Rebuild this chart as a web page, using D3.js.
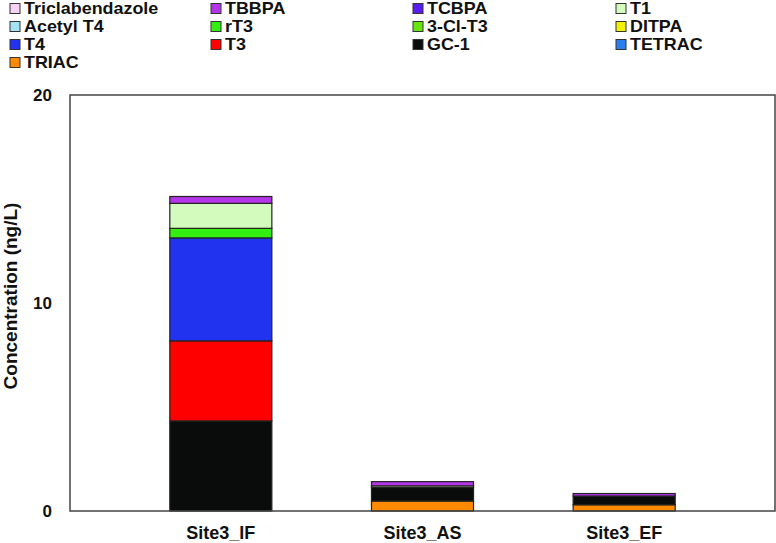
<!doctype html>
<html>
<head>
<meta charset="utf-8">
<title>Concentration stacked bars</title>
<script src="https://cdn.jsdelivr.net/npm/d3@7"></script>
<style>
  body { margin: 0; background: #fff; }
  text { font-family: "Liberation Sans", Arial, sans-serif; font-weight: bold; fill: #111; }
</style>
</head>
<body>
<svg id="chart" width="776" height="543"></svg>
<script>
// legend order (top of the stack first)
var compounds = ["Triclabendazole", "TBBPA", "TCBPA", "T1", "Acetyl T4", "rT3", "3-Cl-T3",
                 "DITPA", "T4", "T3", "GC-1", "TETRAC", "TRIAC"];
var colors = ["#f8d2f2", "#b535e8", "#5a1ef0", "#d2fbbd", "#a6e2f6", "#33ee11", "#66e611",
              "#f2f200", "#2233f0", "#ff0000", "#0a0c0c", "#2a7ef0", "#ff8a00"];
var sites = ["Site3_IF", "Site3_AS", "Site3_EF"];

// values per compound, one per site (ng/L)
var triclabendazole = [0, 0, 0];
var tbbpa   = [0.33, 0.2, 0.12];
var tcbpa   = [0, 0, 0];
var t1      = [1.2, 0.08, 0];
var acetylT4 = [0, 0, 0];
var rt3     = [0.46, 0, 0];
var clt3    = [0, 0, 0];
var ditpa   = [0, 0, 0];
var t4      = [4.95, 0, 0];
var t3      = [3.85, 0, 0];
var gc1     = [4.33, 0.65, 0.42];
var tetrac  = [0, 0, 0];
var triac   = [0, 0.48, 0.3];

var series = [triclabendazole, tbbpa, tcbpa, t1, acetylT4, rt3, clt3, ditpa, t4, t3, gc1, tetrac, triac];
var yTicks = [0, 10, 20];

var rows = sites.map(function(s, i) {
  var r = { site: s };
  compounds.forEach(function(c, j) { r[c] = series[j][i]; });
  return r;
});

var svg = d3.select("#chart");
var plot = { left: 70, right: 775, top: 95, bottom: 511 };

var x = d3.scaleBand().domain(sites).range([120, 725]).paddingInner(0.494).paddingOuter(0.247);
var y = d3.scaleLinear().domain([0, 20]).range([plot.bottom, plot.top]);
var color = d3.scaleOrdinal().domain(compounds).range(colors);

// stack from the bottom: last legend entry sits at the base
var stack = d3.stack().keys(compounds.slice().reverse());
var layers = stack(rows);

svg.append("g").selectAll("g")
  .data(layers)
  .join("g")
    .attr("fill", function(d) { return color(d.key); })
  .selectAll("rect")
  .data(function(d) { return d.filter(function(p) { return p[1] - p[0] > 0; }); })
  .join("rect")
    .attr("x", function(d) { return x(d.data.site); })
    .attr("width", x.bandwidth())
    .attr("y", function(d) { return y(d[1]); })
    .attr("height", function(d) { return y(d[0]) - y(d[1]); })
    .attr("stroke", "#222")
    .attr("stroke-width", 1.2);

// frame
svg.append("rect")
  .attr("x", plot.left).attr("y", plot.top)
  .attr("width", plot.right - plot.left).attr("height", plot.bottom - plot.top)
  .attr("fill", "none").attr("stroke", "#444").attr("stroke-width", 1.5);

// y axis
var yAxis = svg.append("g")
  .attr("transform", "translate(" + plot.left + ",0)")
  .call(d3.axisLeft(y).tickValues(yTicks).tickSize(0).tickPadding(18));
yAxis.select(".domain").remove();
yAxis.selectAll("text").style("font-size", "17px").attr("fill", "#111");

// x axis
var xAxis = svg.append("g")
  .attr("transform", "translate(0," + plot.bottom + ")")
  .call(d3.axisBottom(x).tickSize(0).tickPadding(15));
xAxis.select(".domain").remove();
xAxis.selectAll("text").style("font-size", "18px").attr("fill", "#111");

svg.append("text")
  .attr("transform", "translate(17,296) rotate(-90)")
  .attr("text-anchor", "middle")
  .style("font-size", "19px")
  .text("Concentration (ng/L)");

// legend, 4 columns
var colX = [10, 211, 413, 616];
var legend = svg.append("g").selectAll("g")
  .data(compounds)
  .join("g")
    .attr("transform", function(d, i) {
      return "translate(" + colX[i % 4] + "," + (8.5 + Math.floor(i / 4) * 18) + ")";
    });
legend.append("rect")
  .attr("x", 0).attr("y", -5).attr("width", 10).attr("height", 10)
  .attr("fill", function(d) { return color(d); })
  .attr("stroke", "#333").attr("stroke-width", 1);
legend.append("text")
  .attr("transform", "translate(14,0) scale(1.12,1)")
  .attr("dy", "0.34em")
  .style("font-size", "16px")
  .text(function(d) { return d; });
</script>
</body>
</html>
